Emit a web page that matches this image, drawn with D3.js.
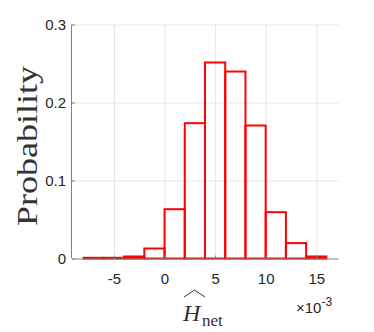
<!DOCTYPE html>
<html>
<head>
<meta charset="utf-8">
<script src="https://cdn.jsdelivr.net/npm/d3@7"></script>
<style>
  html, body { margin: 0; padding: 0; background: #fff; }
  svg { display: block; }
</style>
</head>
<body>
<svg id="chart" width="374" height="332"></svg>
<script>
// ---- data ----
const binEdges = [-8, -6, -4, -2, 0, 2, 4, 6, 8, 10, 12, 14, 16];   // ×10^-3
const probabilities = [0.0009, 0.0009, 0.0026, 0.0128, 0.0632, 0.1735, 0.2513, 0.2397, 0.1705, 0.0594, 0.0197, 0.0026];
const xTickValues = [-5, 0, 5, 10, 15];
const xTickLabels = ["-5", "0", "5", "10", "15"];
const yTickValues = [0, 0.1, 0.2, 0.3];
const yTickLabels = ["0", "0.1", "0.2", "0.3"];

const bins = probabilities.map((p, i) => ({ x0: binEdges[i], x1: binEdges[i + 1], p }));

const svg = d3.select("#chart");
const mLeft = 72, mRight = 338.5, mTop = 24.5, mBottom = 258.5;

const x = d3.scaleLinear().domain([-9.15, 17.2]).range([mLeft, mRight]);
const y = d3.scaleLinear().domain([0, 0.3]).range([mBottom, mTop]);

// grid
svg.append("g")
  .attr("transform", `translate(0,${mBottom})`)
  .call(d3.axisBottom(x).tickValues(xTickValues).tickSize(-(mBottom - mTop)).tickFormat(""))
  .call(g => g.select(".domain").remove())
  .call(g => g.selectAll("line").attr("stroke", "#e6e6e6").attr("stroke-width", 1));
svg.append("g")
  .attr("transform", `translate(${mLeft},0)`)
  .call(d3.axisLeft(y).tickValues(yTickValues.filter(v => v > 0)).tickSize(-(mRight - mLeft)).tickFormat(""))
  .call(g => g.select(".domain").remove())
  .call(g => g.selectAll("line").attr("stroke", "#e6e6e6").attr("stroke-width", 1));

// bars
svg.append("g")
  .selectAll("rect")
  .data(bins)
  .join("rect")
  .attr("x", d => x(d.x0))
  .attr("y", d => y(d.p))
  .attr("width", d => x(d.x1) - x(d.x0))
  .attr("height", d => y(0) - y(d.p))
  .attr("fill", "none")
  .attr("stroke", "#ff0000")
  .attr("stroke-width", 2);

// axes
const axisColor = "#808080";
const tickText = "#262626";
svg.append("g")
  .attr("transform", `translate(0,${mBottom})`)
  .call(d3.axisBottom(x).tickValues(xTickValues).tickSize(-3).tickPadding(15)
    .tickFormat((d, i) => xTickLabels[i]).tickSizeOuter(0))
  .call(g => g.select(".domain").attr("stroke", axisColor).attr("d", `M${mLeft},0.5H${mRight}`))
  .call(g => g.selectAll(".tick line").attr("stroke", axisColor))
  .call(g => g.selectAll("text").attr("fill", tickText)
    .attr("font-family", "Liberation Sans, Arial, sans-serif").attr("font-size", 15));

svg.append("g")
  .attr("transform", `translate(${mLeft},0)`)
  .call(d3.axisLeft(y).tickValues(yTickValues).tickSize(-3).tickPadding(6)
    .tickFormat((d, i) => yTickLabels[i]).tickSizeOuter(0))
  .call(g => g.select(".domain").attr("stroke", axisColor).attr("d", `M-0.5,${mTop}V${mBottom}`))
  .call(g => g.selectAll(".tick line").attr("stroke", axisColor))
  .call(g => g.selectAll("text").attr("fill", tickText)
    .attr("font-family", "Liberation Sans, Arial, sans-serif").attr("font-size", 15));

// exponent label
const expo = svg.append("text")
  .attr("x", 296).attr("y", 312.5)
  .attr("font-family", "Liberation Sans, Arial, sans-serif")
  .attr("font-size", 15).attr("fill", tickText);
expo.append("tspan").text("×10");
expo.append("tspan").attr("font-size", 12).attr("dy", -7).text("-3");

// y label
svg.append("text")
  .attr("transform", "translate(37,146) rotate(-90)")
  .attr("text-anchor", "middle")
  .attr("font-family", "Liberation Serif, Times New Roman, serif")
  .attr("font-size", 30)
  .attr("fill", "#333333")
  .attr("textLength", 160)
  .attr("lengthAdjust", "spacingAndGlyphs")
  .text("Probability");

// x label: H-hat with subscript "net"
svg.append("text")
  .attr("x", 183).attr("y", 321)
  .attr("font-family", "Liberation Serif, Times New Roman, serif")
  .attr("font-style", "italic")
  .attr("font-size", 24)
  .attr("fill", "#333333")
  .text("H");
svg.append("text")
  .attr("x", 202).attr("y", 325.5)
  .attr("font-family", "Liberation Serif, Times New Roman, serif")
  .attr("font-size", 17)
  .attr("fill", "#333333")
  .text("net");
svg.append("path")
  .attr("d", "M184,297 L194.5,290 L205,297")
  .attr("fill", "none")
  .attr("stroke", "#333333")
  .attr("stroke-width", 1);
</script>
</body>
</html>
